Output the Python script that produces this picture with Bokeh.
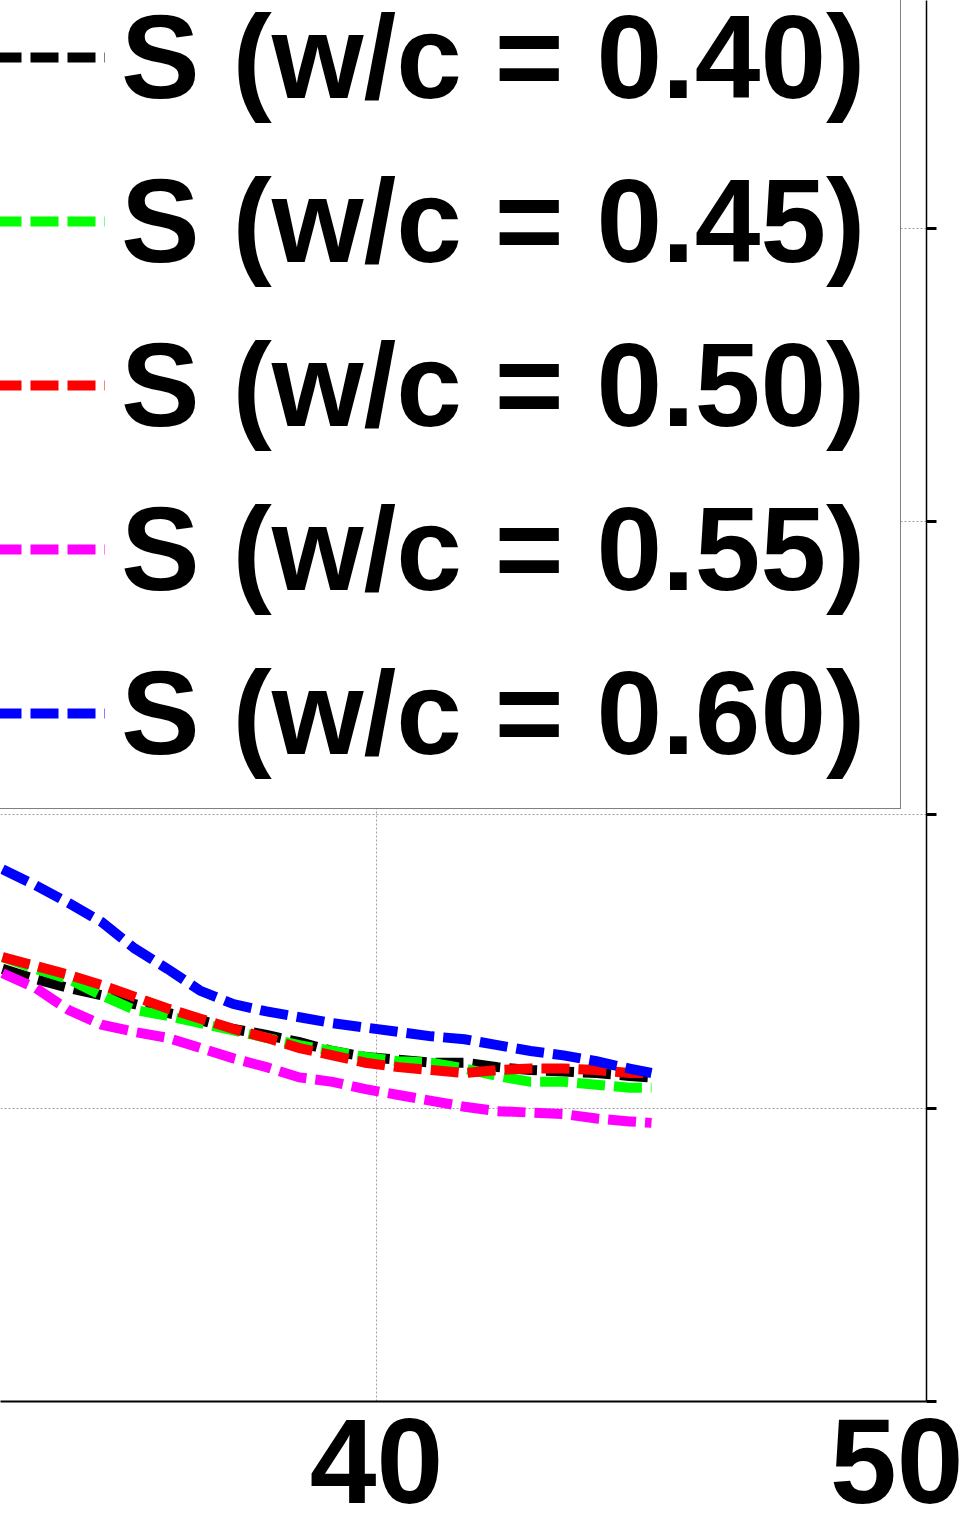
from bokeh.plotting import figure
from bokeh.models import Legend, LegendItem, FixedTicker, CustomJSTickFormatter, Range1d
from bokeh.embed import file_html
from bokeh.resources import INLINE

# ---- data ----
x_vals = [33.2, 33.8, 34.4, 35.0, 35.6, 36.2, 36.8, 37.4, 38.0, 38.6, 39.2,
          39.8, 40.4, 41.0, 41.6, 42.2, 42.8, 43.4, 44.0, 44.6, 45.0]
s_040 = [0.295, 0.288, 0.282, 0.277, 0.271, 0.265, 0.260, 0.254, 0.250, 0.245, 0.239,
         0.235, 0.233, 0.231, 0.231, 0.228, 0.226, 0.225, 0.224, 0.222, 0.221]
s_045 = [0.303, 0.295, 0.288, 0.277, 0.267, 0.263, 0.258, 0.253, 0.248, 0.243, 0.239,
         0.235, 0.232, 0.231, 0.227, 0.222, 0.218, 0.218, 0.216, 0.214, 0.214]
s_050 = [0.303, 0.297, 0.291, 0.284, 0.276, 0.268, 0.261, 0.254, 0.248, 0.241, 0.236,
         0.231, 0.228, 0.226, 0.224, 0.226, 0.227, 0.227, 0.226, 0.224, 0.224]
s_055 = [0.292, 0.282, 0.267, 0.257, 0.252, 0.248, 0.241, 0.234, 0.228, 0.221, 0.218,
         0.213, 0.209, 0.205, 0.201, 0.198, 0.197, 0.196, 0.193, 0.191, 0.190]
s_060 = [0.363, 0.352, 0.340, 0.327, 0.309, 0.295, 0.280, 0.271, 0.266, 0.262, 0.258,
         0.255, 0.252, 0.249, 0.247, 0.243, 0.239, 0.236, 0.232, 0.227, 0.224]

series_labels = ["S (w/c = 0.40)", "S (w/c = 0.45)", "S (w/c = 0.50)",
                 "S (w/c = 0.55)", "S (w/c = 0.60)"]
series_colors = ["#000000", "#00ff00", "#ff0000", "#ff00ff", "#0000ff"]
x_ticks = [30, 40, 50]
y_ticks = [0.0, 0.2, 0.4, 0.6, 0.8]

FONT = "Liberation Sans"

p = figure(width=963, height=1529,
           x_range=Range1d(40 - 376 / 55.0, 50),
           y_range=Range1d(0, 1401 / 1466.5),
           output_backend="svg", toolbar_location=None,
           y_axis_location="right",
           min_border_left=0, min_border_top=0,
           min_border_right=37, min_border_bottom=128)
p.outline_line_color = None
p.background_fill_color = "white"
p.border_fill_color = "white"

renderers = []
for ys, c in zip([s_040, s_045, s_050, s_055, s_060], series_colors):
    r = p.line(x_vals, ys, line_color=c, line_width=10, line_dash="28 9",
               line_cap="butt", line_join="miter")
    renderers.append(r)

# x axis
xa = p.xaxis[0]
xa.ticker = FixedTicker(ticks=x_ticks)
xa.axis_line_color = "black"
xa.axis_line_width = 2
xa.major_tick_in = 0
xa.major_tick_out = 0
xa.minor_tick_line_color = None
xa.major_label_text_font = FONT
xa.major_label_text_font_style = "bold"
xa.major_label_text_font_size = "120px"
xa.major_label_text_color = "black"
xa.major_label_standoff = 17

# y axis (right)
ya = p.yaxis[0]
ya.ticker = FixedTicker(ticks=y_ticks)
ya.axis_line_color = "black"
ya.axis_line_width = 1.5
ya.major_tick_in = 0
ya.major_tick_out = 10
ya.major_tick_line_width = 3
ya.minor_tick_line_color = None
ya.formatter = CustomJSTickFormatter(code="return ''")

for g in (p.xgrid[0], p.ygrid[0]):
    g.grid_line_color = "#a0a0a0"
    g.grid_line_dash = "2 2"
    g.grid_line_width = 1

legend = Legend(
    items=[LegendItem(label=l, renderers=[r]) for l, r in zip(series_labels, renderers)],
    location=(-58, 592),
    padding=13, spacing=0, margin=0,
    glyph_width=149, glyph_height=164,
    label_standoff=16, label_width=766,
    label_text_font=FONT, label_text_font_style="bold",
    label_text_font_size="118px", label_text_baseline="middle",
    label_text_color="black",
    border_line_color="black", border_line_width=1,
    background_fill_color="white", background_fill_alpha=1.0,
)
p.add_layout(legend)

open("out.html", "w").write(file_html(p, INLINE))
